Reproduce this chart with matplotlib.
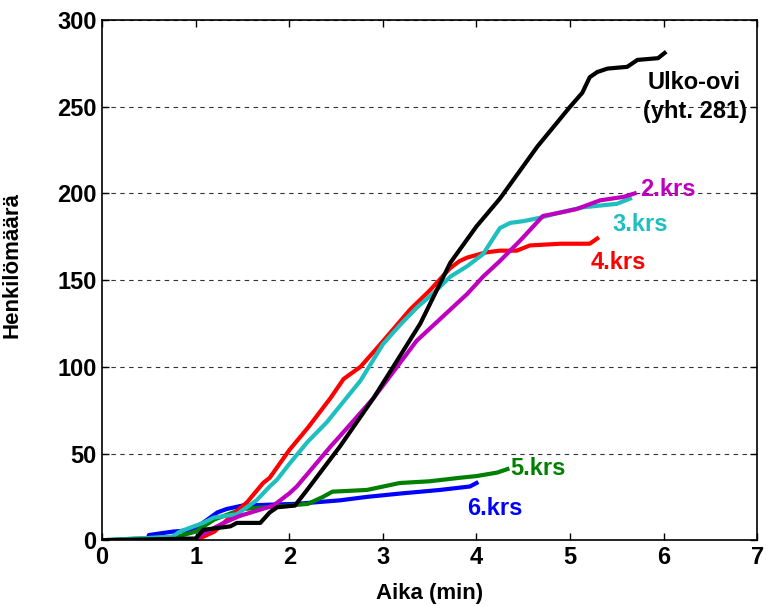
import matplotlib
matplotlib.use('Agg')
import matplotlib.pyplot as plt

# Cumulative number of people through each exit (time in minutes)
ulko_x = [0, 1.0, 1.08, 1.37, 1.44, 1.69, 1.79, 1.87, 2.06, 2.19, 2.54, 2.9, 3.11, 3.4, 3.72,
          4.0, 4.25, 4.65, 5.0, 5.13, 5.21, 5.29, 5.4, 5.61, 5.72, 5.94, 6.01]
ulko_y = [0, 1, 6, 8, 10, 10, 16, 19, 20, 29, 54, 82, 100, 125, 160,
          181, 197, 227, 250, 258, 267, 270, 272, 273, 277, 278, 281]

krs2_x = [0, 1.0, 1.05, 1.3, 1.47, 1.65, 1.83, 2.0, 2.08, 2.19, 2.44, 2.54, 2.9, 3.04, 3.36,
          3.72, 3.9, 4.07, 4.25, 4.47, 4.71, 4.9, 5.07, 5.32, 5.57, 5.69]
krs2_y = [0, 0, 3, 10, 14, 17, 20, 27, 31, 38, 54, 60, 82, 92, 115,
          133, 142, 152, 161, 173, 187, 189, 191, 196, 198, 200]

krs3_x = [0, 0.75, 0.83, 1.08, 1.19, 1.44, 1.65, 1.79, 1.87, 2.0, 2.2, 2.4, 2.58, 2.76, 3.0,
          3.18, 3.36, 3.55, 3.72, 3.9, 4.07, 4.25, 4.36, 4.5, 4.68, 4.89, 5.14, 5.5, 5.64]
krs3_y = [0, 2, 5, 10, 13, 15, 23, 31, 35, 44, 57, 68, 80, 92, 113,
          124, 134, 143, 152, 158, 165, 180, 183, 184, 186, 189, 192, 194, 197]

krs4_x = [0, 1.0, 1.2, 1.4, 1.55, 1.72, 1.79, 2.0, 2.2, 2.44, 2.58, 2.76, 2.94, 3.1, 3.29,
          3.5, 3.72, 3.82, 3.9, 4.1, 4.25, 4.43, 4.57, 4.9, 5.21, 5.29]
krs4_y = [0, 0, 5, 15, 22, 33, 36, 52, 65, 82, 93, 100, 111, 121, 133,
          144, 157, 161, 163, 166, 167, 167, 170, 171, 171, 174]

krs5_x = [0, 0.8, 1.0, 1.2, 1.5, 2.0, 2.2, 2.36, 2.46, 2.83, 3.18, 3.5, 3.82, 4.0, 4.22, 4.33]
krs5_y = [0, 2, 5, 12, 18, 20, 21, 25, 28, 29, 33, 34, 36, 37, 39, 41]

krs6_x = [0, 0.48, 0.5, 0.76, 1.0, 1.05, 1.23, 1.33, 1.5, 2.08, 2.54, 2.83, 3.2, 3.61, 3.93, 4.0]
krs6_y = [0, 0, 3, 5, 6, 9, 16, 18, 20, 21, 23, 25, 27, 29, 31, 33]

plt.rcParams['font.family'] = ['Liberation Sans', 'DejaVu Sans']
plt.rcParams['font.weight'] = 'bold'

fig = plt.figure(figsize=(7.68, 6.07), dpi=100)
ax = fig.add_axes([0.133, 0.110, 0.853, 0.857])

# Horizontal dashed grid only
ax.yaxis.grid(True, linestyle=(0, (4, 4)), color='#333333', linewidth=0.8)
ax.set_axisbelow(True)

lw = 3.0
ax.plot(krs6_x, krs6_y, color='#0000ff', linewidth=lw)
ax.plot(krs5_x, krs5_y, color='#008000', linewidth=lw)
ax.plot(krs4_x, krs4_y, color='#ff0000', linewidth=lw)
ax.plot(krs3_x, krs3_y, color='#1fbfbf', linewidth=lw)
ax.plot(krs2_x, krs2_y, color='#bf00bf', linewidth=lw)
ax.plot(ulko_x, ulko_y, color='black', linewidth=lw)

# Labels next to the curves
fs = 17
ax.text(6.33, 264, 'Ulko-ovi', color='black', fontsize=fs, fontweight='bold', ha='center', va='center')
ax.text(6.33, 247, '(yht. 281)', color='black', fontsize=fs, fontweight='bold', ha='center', va='center')
ax.text(5.75, 202, '2.krs', color='#bf00bf', fontsize=fs, fontweight='bold', va='center')
ax.text(5.45, 182, '3.krs', color='#1fbfbf', fontsize=fs, fontweight='bold', va='center')
ax.text(5.22, 160, '4.krs', color='#ff0000', fontsize=fs, fontweight='bold', va='center')
ax.text(4.36, 41.5, '5.krs', color='#008000', fontsize=fs, fontweight='bold', va='center')
ax.text(3.9, 18.5, '6.krs', color='#0000ff', fontsize=fs, fontweight='bold', va='center')

ax.set_xlim(0, 7)
ax.set_ylim(0, 300)
ax.set_xticks(range(0, 8))
ax.set_yticks(range(0, 301, 50))
ax.tick_params(direction='in', top=True, right=True, length=5, width=1, labelsize=17, pad=4)
for lab in ax.get_xticklabels() + ax.get_yticklabels():
    lab.set_fontweight('bold')
for sp in ax.spines.values():
    sp.set_linewidth(1.2)

ax.set_xlabel('Aika (min)', fontsize=16, fontweight='bold', labelpad=10)
ax.set_ylabel('Henkilömäärä', fontsize=16, fontweight='bold')
ax.yaxis.set_label_coords(-0.122, 0.529)

fig.savefig('out.png', dpi=100)
